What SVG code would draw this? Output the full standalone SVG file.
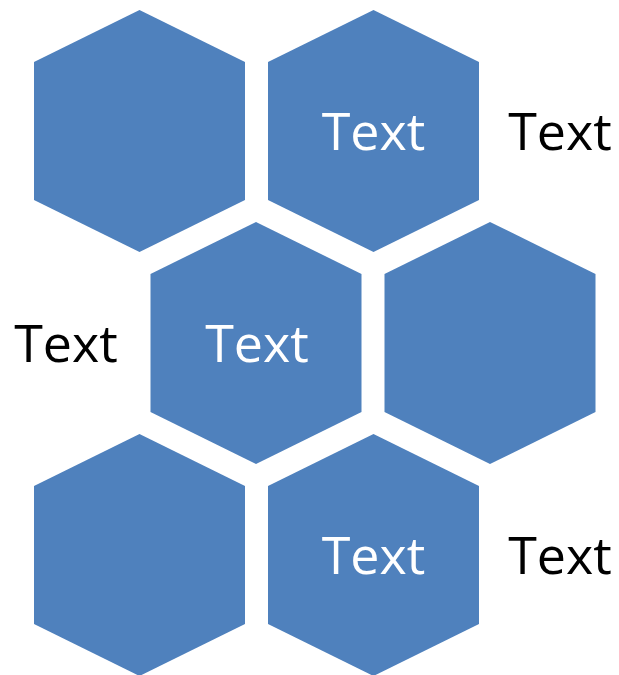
<svg xmlns="http://www.w3.org/2000/svg" width="619" height="675" viewBox="0 0 619 675">
<defs>
<style>
.hex{fill:#4F81BD;}
.t{font-family:"Open Sans","Noto Sans","Liberation Sans",sans-serif;font-size:52px;text-anchor:middle;}
.w{fill:#ffffff;}
.b{fill:#000000;}
</style>
<polygon id="hexshape" points="0,-121 105.5,-69 105.5,69 0,121 -105.5,69 -105.5,-69"/>
</defs>
<rect width="619" height="675" fill="#ffffff"/>
<g id="hex1"><use href="#hexshape" class="hex" transform="translate(139.5,131)"/></g>
<g id="hex2"><use href="#hexshape" class="hex" transform="translate(373.5,131)"/><text class="t w" x="373.5" y="150">Text</text></g>
<g id="label1"><text class="t b" x="560" y="150">Text</text></g>
<g id="label2"><text class="t b" x="66" y="362">Text</text></g>
<g id="hex3"><use href="#hexshape" class="hex" transform="translate(256,343)"/><text class="t w" x="257" y="362">Text</text></g>
<g id="hex4"><use href="#hexshape" class="hex" transform="translate(490,343)"/></g>
<g id="hex5"><use href="#hexshape" class="hex" transform="translate(139.5,555)"/></g>
<g id="hex6"><use href="#hexshape" class="hex" transform="translate(373.5,555)"/><text class="t w" x="373.5" y="574">Text</text></g>
<g id="label3"><text class="t b" x="560" y="574">Text</text></g>
<g id="connectors"></g>
</svg>
